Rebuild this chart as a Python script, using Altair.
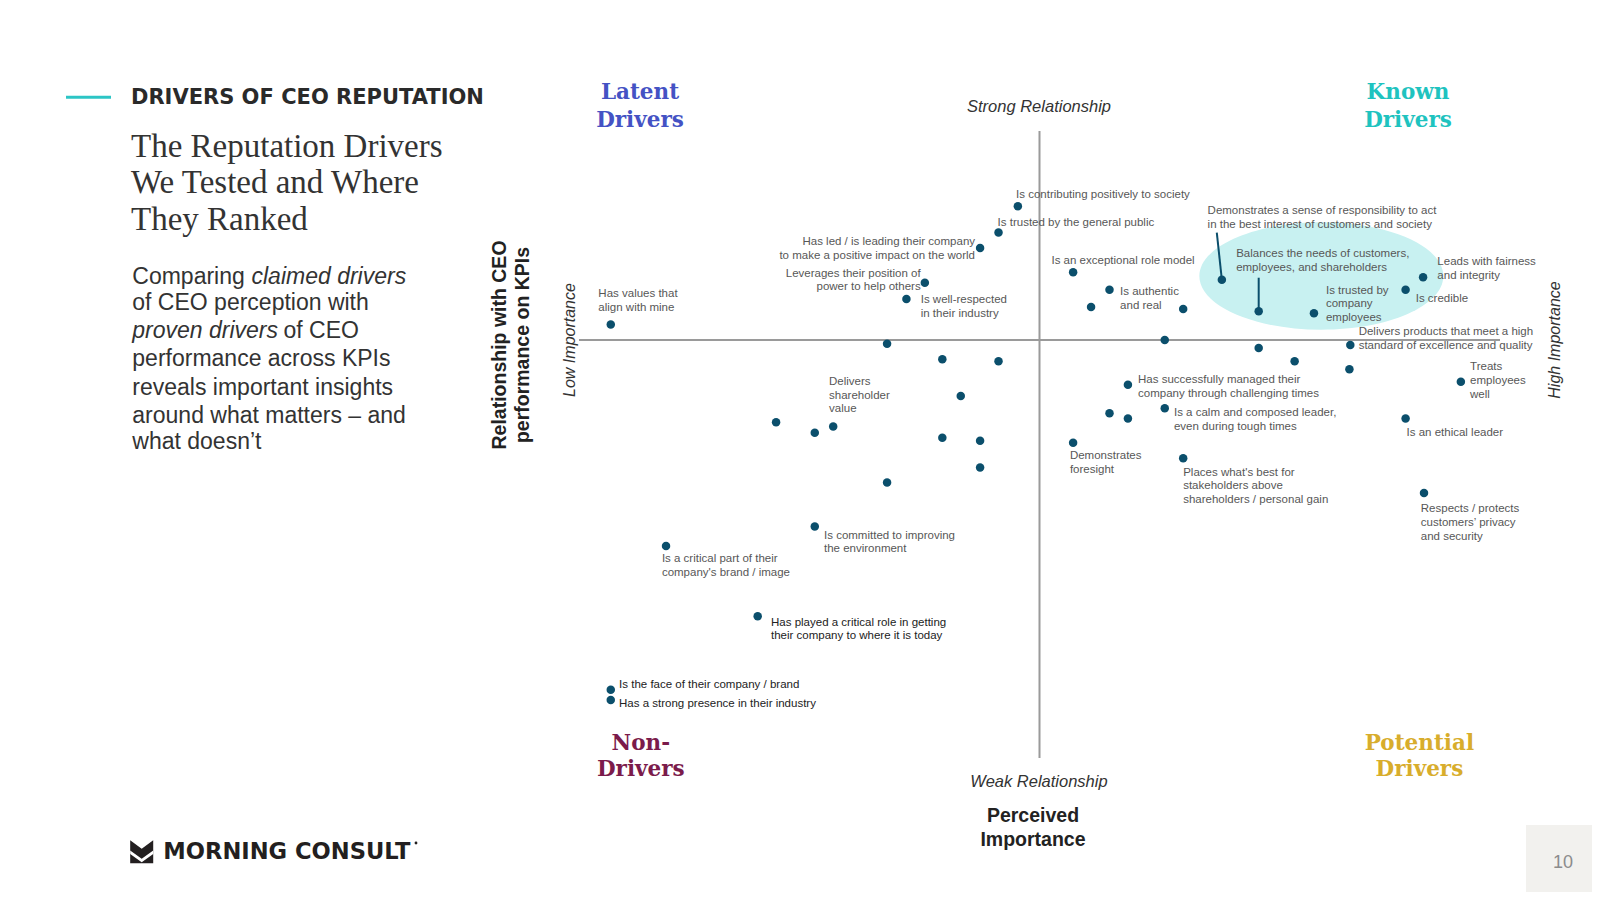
import altair as alt
import pandas as pd

# ---------------- data ----------------
# x = perceived importance (0 = quadrant divide), y = relationship with CEO performance on KPIs
drivers = [
    "Has values that align with mine",
    "Is contributing positively to society",
    "Is trusted by the general public",
    "Has led / is leading their company to make a positive impact on the world",
    "Leverages their position of power to help others",
    "Is well-respected in their industry",
    "Is an exceptional role model",
    "Is authentic and real",
    "Demonstrates a sense of responsibility to act in the best interest of customers and society",
    "Balances the needs of customers, employees, and shareholders",
    "Is trusted by company employees",
    "Is credible",
    "Leads with fairness and integrity",
    "Delivers products that meet a high standard of excellence and quality",
    "Has successfully managed their company through challenging times",
    "Is a calm and composed leader, even during tough times",
    "Demonstrates foresight",
    "Places what's best for stakeholders above shareholders / personal gain",
    "Treats employees well",
    "Is an ethical leader",
    "Respects / protects customers’ privacy and security",
    "Delivers shareholder value",
    "Is committed to improving the environment",
    "Is a critical part of their company's brand / image",
    "Has played a critical role in getting their company to where it is today",
    "Is the face of their company / brand",
    "Has a strong presence in their industry",
]
importance = [-93.1, -4.7, -8.9, -12.9, -24.9, -28.9, 7.3, 15.2, 39.6, 47.6, 59.6, 79.5, 83.3,
              67.5, 19.2, 27.2, 7.3, 31.2, 91.5, 79.5, 83.5, -44.8, -48.8, -81.1, -61.2, -93.1, -93.1]
relationship = [3.7, 32.0, 25.7, 22.0, 13.7, 9.8, 16.2, 12.0, 14.4, 6.9, 6.4, 12.0, 15.0,
                -1.2, -10.7, -16.3, -24.6, -28.3, -10.0, -18.8, -36.6, -20.7, -44.6, -49.3, -66.1, -83.7, -86.1]

# drivers plotted without a label
other_importance = [-33.1, 11.2, 31.2, 27.2, 47.6, 55.4, 67.3, 15.2, 19.2,
                    -21.1, -8.9, -17.1, -21.1, -12.9, -12.9, -33.1, -57.2, -48.8]
other_relationship = [-0.9, 7.9, 7.4, 0.0, -1.9, -5.1, -7.0, -17.5, -18.8,
                      -4.6, -5.1, -13.4, -23.4, -24.1, -30.5, -34.1, -19.7, -22.2]

# label text as printed (line breaks as on the slide)
label_text = [
    "Has values that\nalign with mine",
    "Is contributing positively to society",
    "Is trusted by the general public",
    "Has led / is leading their company\nto make a positive impact on the world",
    "Leverages their position of\npower to help others",
    "Is well-respected\nin their industry",
    "Is an exceptional role model",
    "Is authentic\nand real",
    "Demonstrates a sense of responsibility to act\nin the best interest of customers and society",
    "Balances the needs of customers,\nemployees, and shareholders",
    "Is trusted by\ncompany\nemployees",
    "Is credible",
    "Leads with fairness\nand integrity",
    "Delivers products that meet a high\nstandard of excellence and quality",
    "Has successfully managed their\ncompany through challenging times",
    "Is a calm and composed leader,\neven during tough times",
    "Demonstrates\nforesight",
    "Places what's best for\nstakeholders above\nshareholders / personal gain",
    "Treats\nemployees\nwell",
    "Is an ethical leader",
    "Respects / protects\ncustomers’ privacy\nand security",
    "Delivers\nshareholder\nvalue",
    "Is committed to improving\nthe environment",
    "Is a critical part of their\ncompany's brand / image",
    "Has played a critical role in getting\ntheir company to where it is today",
    "Is the face of their company / brand",
    "Has a strong presence in their industry",
]

# ---------------- layout (label placement, in chart units) ----------------
label_importance = [-95.8, -5.1, -9.1, -14.0, -25.8, -25.8, 2.6, 17.5, 36.5, 42.7, 62.2, 81.7, 86.4,
                    69.3, 21.4, 29.2, 6.6, 31.2, 93.5, 79.7, 82.8, -45.7, -46.8, -82.0, -58.3, -91.3, -91.3]
label_relationship = [11.0, 34.7, 28.1, 23.5, 15.9, 9.6, 18.9, 11.5, 30.8, 20.6, 11.8, 9.8, 18.6,
                      1.8, -9.5, -17.5, -27.8, -31.7, -6.5, -22.2, -40.5, -10.0, -46.8, -52.4, -67.6, -82.5, -87.1]
right_aligned = {3, 4}
dark_labels = {24, 25, 26}
LINE_STEP = 3.3

# leader lines (start of the connector; it ends at the driver's point)
leader_driver = [8, 9]
leader_importance = [38.5, 47.6]
leader_relationship = [25.7, 14.9]

highlight_importance = [61.2]
highlight_relationship = [15.3]

importance_span = [-100, 100]
relationship_span = [-100, 50]

# ---------------- frames ----------------
points = pd.DataFrame({"driver": drivers, "importance": importance, "relationship": relationship})
others = pd.DataFrame({"importance": other_importance, "relationship": other_relationship})
rows = []
for i, txt in enumerate(label_text):
    for j, line in enumerate(txt.split("\n")):
        rows.append({
            "line": line,
            "importance": label_importance[i],
            "relationship": label_relationship[i] - j * LINE_STEP,
            "group": "right" if i in right_aligned else ("dark" if i in dark_labels else "left"),
        })
labels = pd.DataFrame(rows)
leaders = pd.DataFrame({
    "importance": leader_importance,
    "relationship": leader_relationship,
    "importance_end": [importance[k] for k in leader_driver],
    "relationship_end": [relationship[k] for k in leader_driver],
})
hline = pd.DataFrame({"importance": [importance_span[0]], "importance_end": [importance_span[1]], "relationship": [0]})
vline = pd.DataFrame({"importance": [0], "relationship": [relationship_span[0]], "relationship_end": [relationship_span[1]]})
ellipse = pd.DataFrame({"importance": highlight_importance, "relationship": highlight_relationship})
one = pd.DataFrame({"k": [0]})

XS = alt.Scale(domain=importance_span, range=[571, 1492], nice=False, zero=False)
YS = alt.Scale(domain=relationship_span, range=[750, 123], nice=False, zero=False)


def X(f="importance"):
    return alt.X(f"{f}:Q", scale=XS, axis=None)


def Y(f="relationship"):
    return alt.Y(f"{f}:Q", scale=YS, axis=None)


DOT = "#0b4f6c"
LABEL_GRAY = "#575757"

layers = []

# highlight ellipse
ELLIPSE = "M -1 0 A 1 0.44 0 1 0 1 0 A 1 0.44 0 1 0 -1 0 Z"
layers.append(alt.Chart(ellipse).mark_point(shape=ELLIPSE, filled=True, color="#c8f1f1", opacity=1, strokeWidth=0)
              .encode(x=X(), y=Y(), size=alt.value(59536)))

# quadrant dividers
layers.append(alt.Chart(hline).mark_rule(color="#9a9a9a", strokeWidth=2)
              .encode(x=X(), x2="importance_end:Q", y=Y()))
layers.append(alt.Chart(vline).mark_rule(color="#9a9a9a", strokeWidth=2)
              .encode(x=X(), y=Y(), y2="relationship_end:Q"))

# leader lines
layers.append(alt.Chart(leaders).mark_rule(color=DOT, strokeWidth=2)
              .encode(x=X(), y=Y(), x2="importance_end:Q", y2="relationship_end:Q"))

# points
layers.append(alt.Chart(others).mark_circle(size=72, color=DOT, opacity=1).encode(x=X(), y=Y()))
layers.append(alt.Chart(points).mark_circle(size=72, color=DOT, opacity=1)
              .encode(x=X(), y=Y(), tooltip="driver:N"))

# labels
for grp, align, color in [("left", "left", LABEL_GRAY), ("right", "right", LABEL_GRAY), ("dark", "left", "#222222")]:
    layers.append(alt.Chart(labels[labels["group"] == grp]).mark_text(
        align=align, baseline="middle", font="Liberation Sans", fontSize=11.5, color=color)
        .encode(x=X(), y=Y(), text="line:N"))


def slide_text(text, x, y, size, color="#333333", font="Liberation Sans", weight="normal",
               style="normal", align="left", angle=0):
    return alt.Chart(pd.DataFrame({"t": [text]})).mark_text(
        align=align, baseline="middle", font=font, fontSize=size, fontWeight=weight,
        fontStyle=style, color=color, angle=angle).encode(x=alt.value(x), y=alt.value(y), text="t:N")


# quadrant headings
SERIF_B = dict(font="DejaVu Serif", weight="bold", size=21.5, align="center")
for txt, x, y, c in [("Latent", 632, 85, "#4452c4"), ("Drivers", 632, 112.8, "#4452c4"),
                     ("Known", 1400, 85, "#1fc3bf"), ("Drivers", 1400, 112.8, "#1fc3bf"),
                     ("Non-", 632.8, 735.5, "#7b1b4b"), ("Drivers", 632.8, 761.5, "#7b1b4b"),
                     ("Potential", 1411.4, 735.5, "#d8ad2c"), ("Drivers", 1411.4, 761.5, "#d8ad2c")]:
    layers.append(slide_text(txt, x, y, color=c, **SERIF_B))

# axis annotations
layers.append(slide_text("Strong Relationship", 1031, 99.1, 16.5, style="italic", align="center"))
layers.append(slide_text("Weak Relationship", 1031, 773.6, 16.5, style="italic", align="center"))
layers.append(slide_text("Low Importance", 562, 332, 16, style="italic", align="center", angle=270))
layers.append(slide_text("High Importance", 1547, 332, 16, style="italic", align="center", angle=270))
layers.append(slide_text("Relationship with CEO", 492, 337, 19.5, color="#222222", weight="bold", align="center", angle=270))
layers.append(slide_text("performance on KPIs", 515, 337, 19.5, color="#222222", weight="bold", align="center", angle=270))
layers.append(slide_text("Perceived", 1025, 808.3, 19.5, color="#222222", weight="bold", align="center"))
layers.append(slide_text("Importance", 1025, 831.8, 19.5, color="#222222", weight="bold", align="center"))

# left panel
layers.append(alt.Chart(one).mark_rule(color="#2cc5c5", strokeWidth=3)
              .encode(x=alt.value(58), x2=alt.value(103), y=alt.value(89.3)))
layers.append(slide_text("DRIVERS OF CEO REPUTATION", 123, 90, 21, color="#2a2a2a", font="DejaVu Sans", weight="bold"))
for txt, y in [("The Reputation Drivers", 138.7), ("We Tested and Where", 175.3), ("They Ranked", 212)]:
    layers.append(slide_text(txt, 123, y, 33, font="Liberation Serif"))
body = [("Comparing ", 124.3, 268.5, "normal"), ("claimed drivers", 243.5, 268.5, "italic"),
        ("of CEO perception with", 124.3, 295, "normal"),
        ("proven drivers", 124.3, 322.6, "italic"), ("of CEO", 275.5, 322.6, "normal"),
        ("performance across KPIs", 124.3, 351.2, "normal"),
        ("reveals important insights", 124.3, 379.8, "normal"),
        ("around what matters – and", 124.3, 408.3, "normal"),
        ("what doesn’t", 124.3, 433.8, "normal")]
for txt, x, y, st in body:
    layers.append(slide_text(txt, x, y, 23, style=st))

# logo
LOGO = "M -1 -1 L 0 -0.25 L 1 -1 L 1 1 L -1 1 Z"
CHEVRON = "M -1 -0.1 L 0 0.62 L 1 -0.1 L 1 0.2 L 0 0.92 L -1 0.2 Z"
layers.append(alt.Chart(one).mark_point(shape=LOGO, filled=True, color="#231f20", opacity=1, strokeWidth=0)
              .encode(x=alt.value(133.7), y=alt.value(843.7), size=alt.value(530)))
layers.append(alt.Chart(one).mark_point(shape=CHEVRON, filled=True, color="#ffffff", opacity=1, strokeWidth=0)
              .encode(x=alt.value(133.7), y=alt.value(843.7), size=alt.value(530)))
layers.append(slide_text("MORNING CONSULT", 155.3, 844, 22.6, color="#231f20", font="DejaVu Sans", weight="bold"))
layers.append(alt.Chart(one).mark_circle(size=8, color="#231f20", opacity=1)
              .encode(x=alt.value(408), y=alt.value(835)))

# page number
layers.append(alt.Chart(one).mark_rect(color="#f2f1ee")
              .encode(x=alt.value(1518), x2=alt.value(1584), y=alt.value(817), y2=alt.value(884)))
layers.append(slide_text("10", 1555, 855, 18, color="#8c8c8c", align="center"))

chart = alt.layer(*layers).properties(
    width=1584, height=884, padding=0,
    autosize=alt.AutoSizeParams(type="none"),
).configure_view(stroke=None)

chart.save("out.html", embed_options={"renderer": "svg", "actions": False})
